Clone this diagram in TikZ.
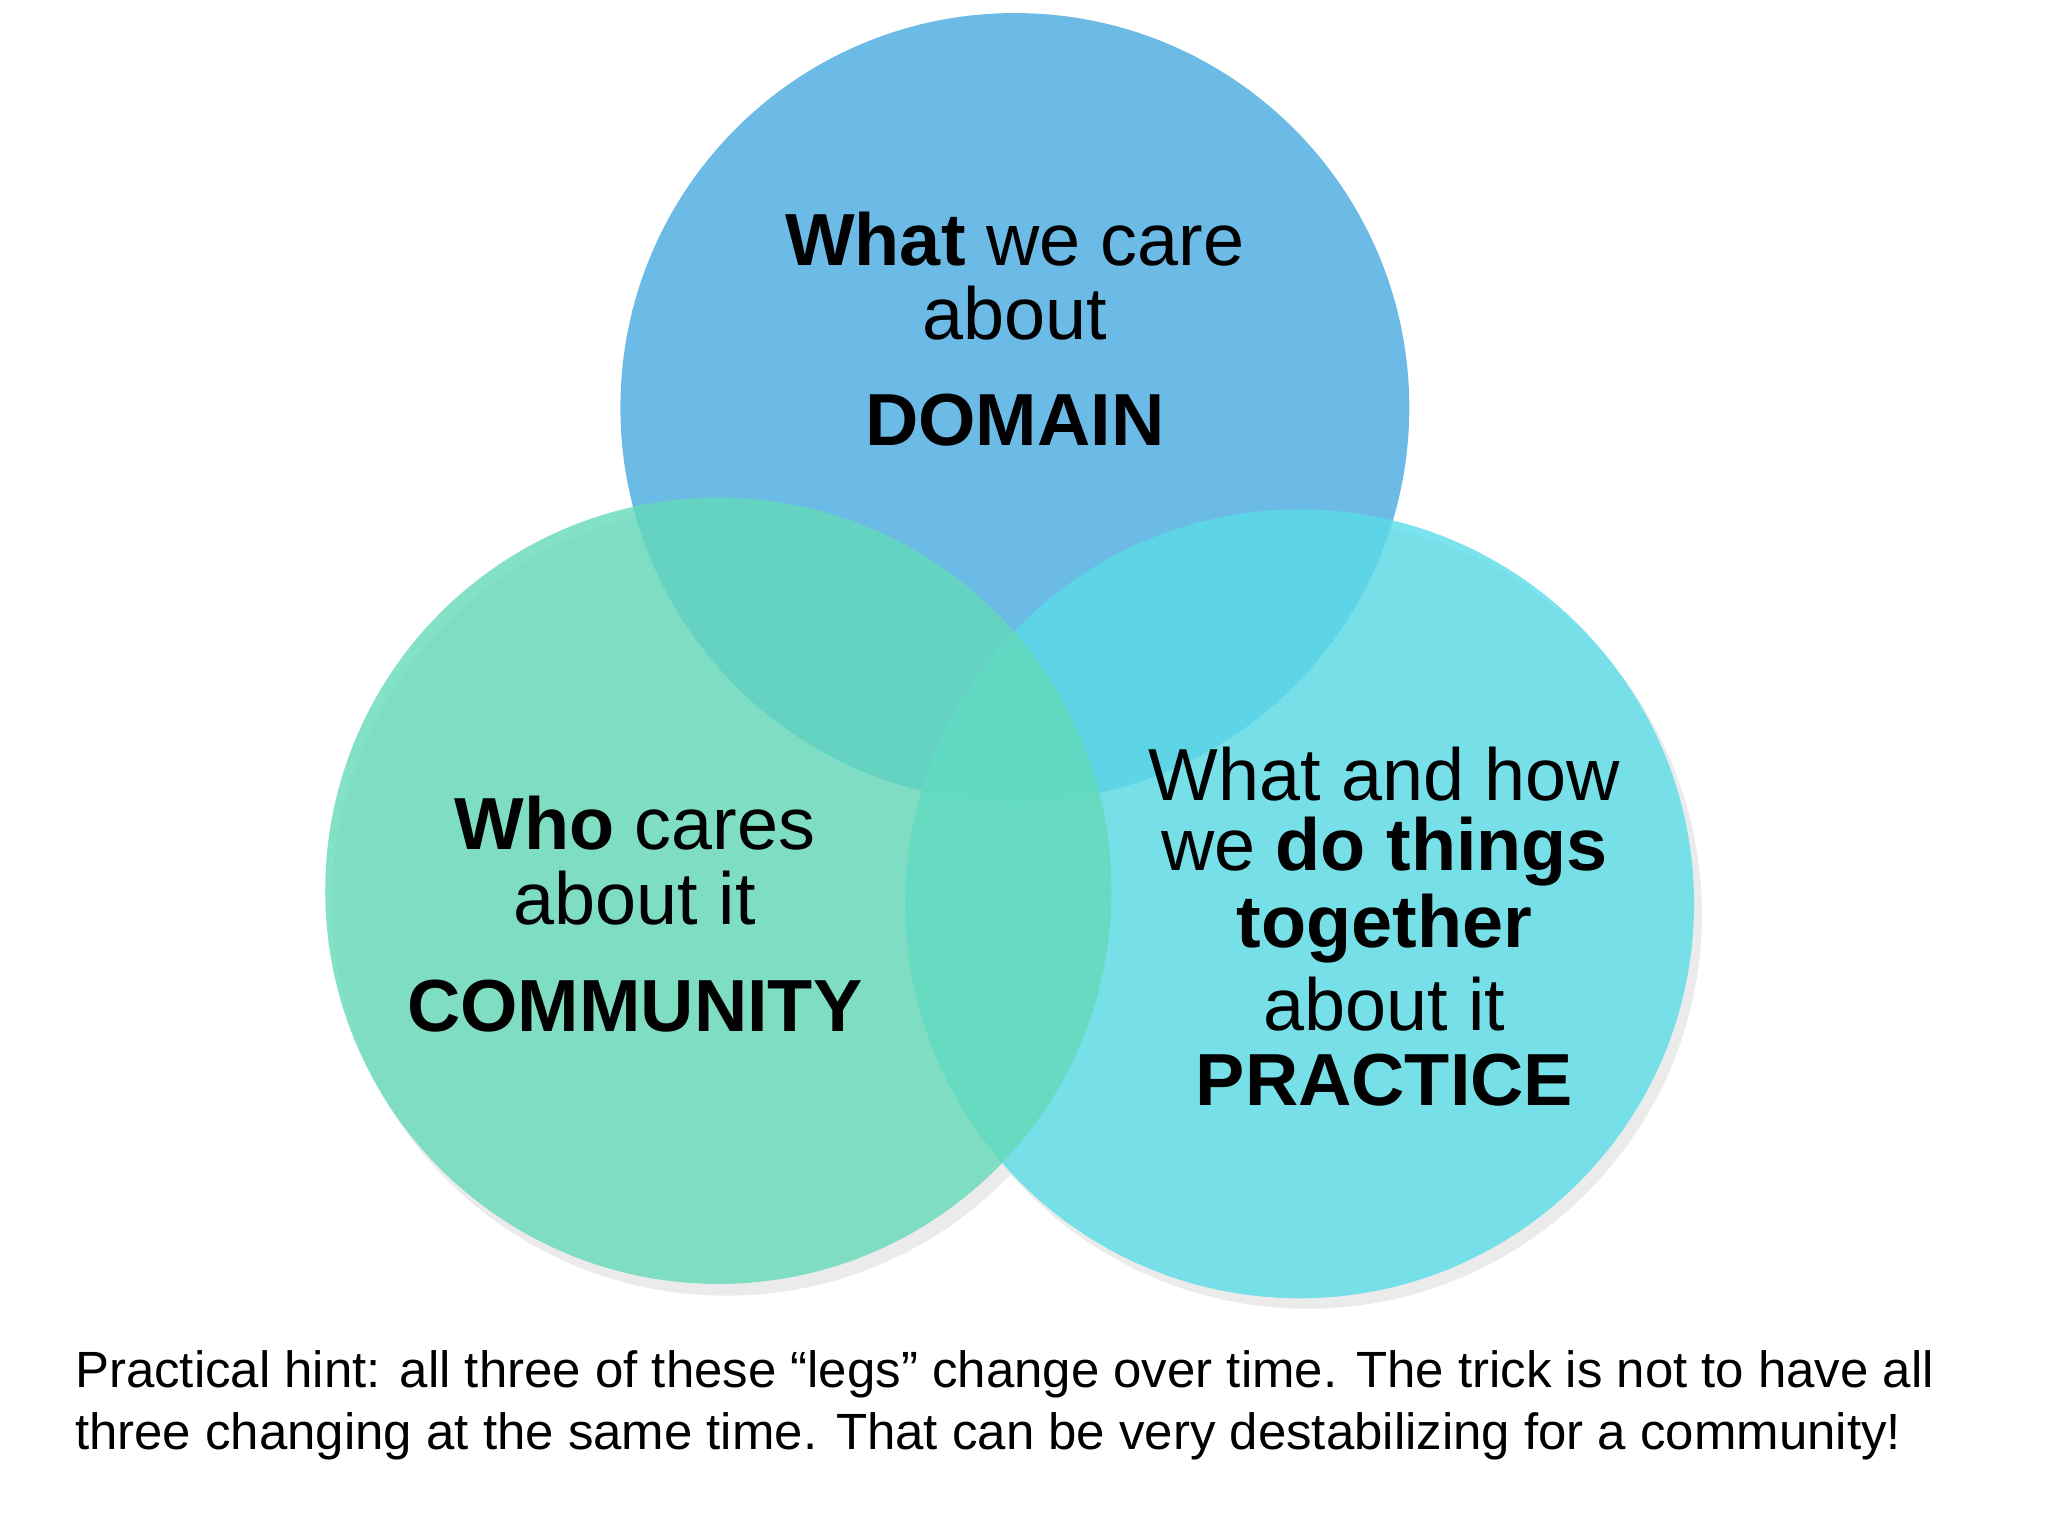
\documentclass[tikz,border=0pt]{standalone}
\usepackage{fontspec}
\setmainfont{Liberation Sans}
\begin{document}
\begin{tikzpicture}[x=0.01306cm,y=-0.01306cm,
  lbl/.style={align=center,font=\fontsize{21}{24}\selectfont},
  big/.style={font=\fontsize{21}{24}\selectfont\bfseries},
  hint/.style={anchor=west,font=\fontsize{14.5}{17}\selectfont}]
\useasboundingbox (0,0) rectangle (1568,1176);
\definecolor{cblue}{RGB}{108,186,230}
\definecolor{cgreen}{RGB}{100,218,185}
\definecolor{ccyan}{RGB}{90,220,232}
\fill[black!8] (556,690) circle (302);
\fill[black!8] (1001,700) circle (302);
\fill[cblue] (777,312) circle (302);
\fill[ccyan,fill opacity=0.8] (995,692) circle (302);
\fill[cgreen,fill opacity=0.8] (550,682) circle (301);
\node[lbl] (t1) at (777,183) {\textbf{What} we care};
\node[lbl] (t2) at (777,240) {about};
\node[big] (t3) at (777,322) {DOMAIN};
\node[lbl] (l1) at (486,630) {\textbf{Who} cares};
\node[lbl] (l2) at (486,688) {about it};
\node[big] (l3) at (486,770) {COMMUNITY};
\node[lbl] (r1) at (1060,593) {What and how};
\node[lbl] (r2) at (1060,652) {we \textbf{do things}};
\node[lbl] (r3) at (1060,711) {\textbf{together}};
\node[lbl] (r4) at (1060,769) {about it};
\node[big] (r5) at (1060,827) {PRACTICE};
\node[hint] (h1) at (48,1052) {Practical hint: all three of these “legs” change over time. The trick is not to have all};
\node[hint] (h2) at (48,1100) {three changing at the same time. That can be very destabilizing for a community!};
\end{tikzpicture}
\end{document}
